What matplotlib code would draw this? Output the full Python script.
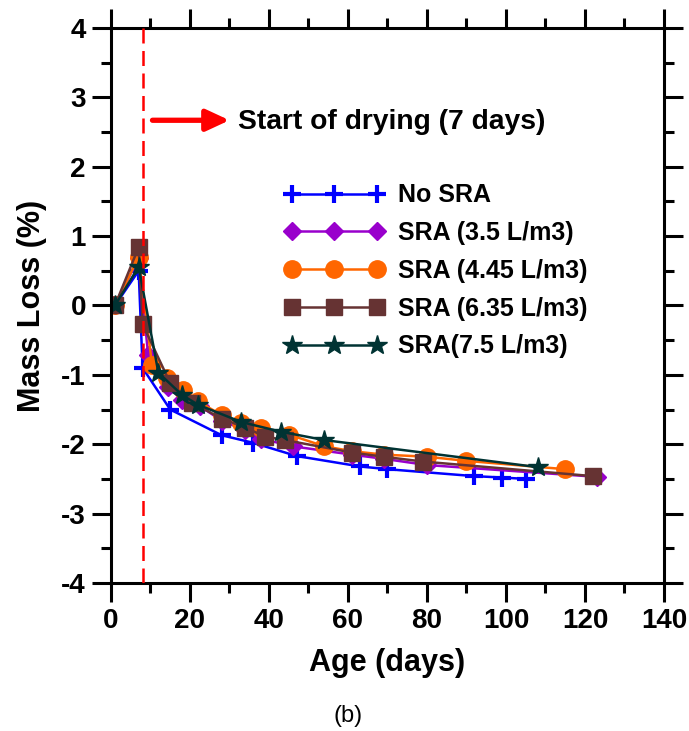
import numpy as np
import matplotlib
matplotlib.use("Agg")
import matplotlib.pyplot as plt
from matplotlib.ticker import MultipleLocator

plt.rcParams['font.family'] = ['Liberation Sans', 'DejaVu Sans']
plt.rcParams['axes.unicode_minus'] = False

# data
age_no = [1, 7, 8, 15, 28, 36, 47, 63, 70, 92, 99, 105]
loss_no = [0, 0.5, -0.9, -1.5, -1.87, -1.98, -2.17, -2.32, -2.36, -2.46, -2.48, -2.5]

age_35 = [1, 7, 9.4, 14.4, 18, 22.5, 28, 34, 38, 46, 61, 69, 80, 123]
loss_35 = [0, 0.69, -0.71, -1.17, -1.36, -1.45, -1.66, -1.8, -1.92, -2.03, -2.15, -2.21, -2.3, -2.47]

age_445 = [1, 7, 10.4, 14.2, 18.2, 22, 28, 33, 38, 45, 54, 61, 69, 80, 90, 115]
loss_445 = [0, 0.7, -0.86, -1.04, -1.22, -1.38, -1.58, -1.7, -1.76, -1.86, -2.03, -2.1, -2.15, -2.18, -2.24, -2.36]

age_635 = [1, 7, 8, 15, 20.5, 28, 34, 39, 44, 61, 69, 79, 122]
loss_635 = [0, 0.84, -0.27, -1.12, -1.4, -1.63, -1.76, -1.89, -1.94, -2.12, -2.18, -2.25, -2.46]

age_75 = [1, 7, 12, 18, 22, 33, 43, 54, 108]
loss_75 = [0, 0.56, -0.97, -1.29, -1.43, -1.68, -1.82, -1.94, -2.33]

fig = plt.figure(figsize=(6.89, 7.31), dpi=100)
ax = fig.add_axes([0.1611, 0.2025, 0.8026, 0.7592])

ax.plot(age_no, loss_no, color='#0000FF', marker='+', ms=13, mew=3, lw=1.8, label='No SRA')
ax.plot(age_35, loss_35, color='#9900CC', marker='D', ms=9.5, lw=1.8, label='SRA (3.5 L/m3)')
ax.plot(age_445, loss_445, color='#FF6600', marker='o', ms=12.5, lw=1.8, label='SRA (4.45 L/m3)')
ax.plot(age_635, loss_635, color='#663333', marker='s', ms=12, lw=1.8, label='SRA (6.35 L/m3)')
ax.plot(age_75, loss_75, color='#003333', marker='*', ms=15, lw=1.8, label='SRA(7.5 L/m3)')

# start of drying
ax.axvline(8, color='red', lw=1.8, dashes=(6, 3), zorder=10)
ax.annotate('', xy=(30, 2.67), xytext=(10.5, 2.67),
            arrowprops=dict(arrowstyle='-|>,head_length=1.4,head_width=0.65',
                            color='red', lw=3.8, mutation_scale=10,
                            shrinkA=0, shrinkB=0))
ax.text(32.2, 2.64, 'Start of drying (7 days)', fontsize=20.3, fontweight='bold',
        va='center', ha='left')

ax.set_xlim(0, 140)
ax.set_ylim(-4, 4)
ax.xaxis.set_major_locator(MultipleLocator(20))
ax.xaxis.set_minor_locator(MultipleLocator(10))
ax.yaxis.set_major_locator(MultipleLocator(1))
ax.yaxis.set_minor_locator(MultipleLocator(0.5))
ax.tick_params(which='both', direction='out', top=True, right=True, width=2.2)
ax.tick_params(which='major', length=14, labelsize=20, pad=4)
ax.tick_params(which='minor', length=7)
for lab in ax.get_xticklabels() + ax.get_yticklabels():
    lab.set_fontweight('bold')
for sp in ax.spines.values():
    sp.set_linewidth(2.2)

ax.set_xlabel('Age (days)', fontsize=22, fontweight='bold')
ax.set_ylabel('Mass Loss (%)', fontsize=22, fontweight='bold')
ax.xaxis.set_label_coords(0.5, -0.118)
ax.yaxis.set_label_coords(-0.115, 0.5)

leg = ax.legend(loc='upper left', bbox_to_anchor=(0.295, 0.738), frameon=False,
                numpoints=3, handlelength=4.0, handletextpad=0.55, labelspacing=0.55,
                borderaxespad=0, prop=dict(size=18, weight='bold'))

fig.text(0.505, 0.021, '(b)', fontsize=17, ha='center', va='center')

fig.savefig('out.png', dpi=100)
